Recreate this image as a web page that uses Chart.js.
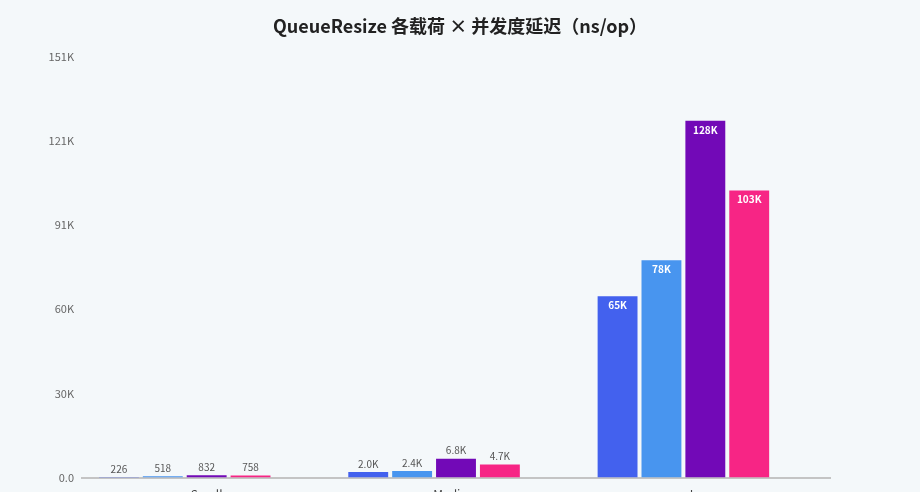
<!DOCTYPE html>
<html lang="zh">
<head>
<meta charset="UTF-8">
<title>QueueResize 各载荷 × 并发度延迟</title>
<style>
  html, body {
    margin: 0;
    padding: 0;
    background: #f4f8fa;
    overflow: hidden;
    height: 492px;
  }
  .wrap {
    width: 920px;
    height: 532px;
    position: relative;
  }
</style>
</head>
<body>
<div class="wrap">
  <canvas id="chart"></canvas>
</div>

<script src="https://cdn.jsdelivr.net/npm/chart.js@4"></script>
<script>
// 载荷类别
const loads = ['Small', 'Medium', 'Large'];
// 各并发度的延迟 (ns/op)
const conc1 = [226, 2010, 65000];
const conc4 = [518, 2400, 78000];
const conc16 = [832, 6800, 128000];
const conc64 = [758, 4700, 103000];
const conc256 = [null, null, null]; // 未测
const seriesNames = ['并发 1', '并发 4', '并发 16', '并发 64', '并发 256'];
// y 轴刻度
const yMax = 151000;
const yStep = 30200;
const yTickLabels = ['0.0', '30K', '60K', '91K', '121K', '151K'];

const colors = ['#4361ee', '#4895ef', '#7209b7', '#f72585', '#3a0ca3'];
const FONT = '"Noto Sans CJK SC", "Noto Sans", sans-serif';

function fmt(v) {
  if (v < 1000) return String(Math.round(v));
  if (v < 10000) return (v / 1000).toFixed(1) + 'K';
  return Math.round(v / 1000) + 'K';
}

// 柱顶数值标签
const valueLabels = {
  id: 'valueLabels',
  afterDatasetsDraw(chart) {
    const ctx = chart.ctx;
    ctx.save();
    ctx.textAlign = 'center';
    chart.data.datasets.forEach((ds, i) => {
      const meta = chart.getDatasetMeta(i);
      meta.data.forEach((bar, j) => {
        const v = ds.data[j];
        if (v == null) return;
        const h = bar.base - bar.y;
        if (h > 40) {
          ctx.fillStyle = '#ffffff';
          ctx.font = 'bold 10px ' + FONT;
          ctx.textBaseline = 'top';
          ctx.fillText(fmt(v), bar.x, bar.y + 4);
        } else {
          ctx.fillStyle = '#555555';
          ctx.font = '10px ' + FONT;
          ctx.textBaseline = 'bottom';
          ctx.fillText(fmt(v), bar.x, bar.y - 3);
        }
      });
    });
    ctx.restore();
  }
};

const seriesData = [conc1, conc4, conc16, conc64, conc256];

new Chart(document.getElementById('chart'), {
  type: 'bar',
  data: {
    labels: loads,
    datasets: seriesData.map((d, i) => ({
      label: seriesNames[i],
      data: d,
      backgroundColor: colors[i],
      categoryPercentage: 0.88,
      barPercentage: 0.909
    }))
  },
  options: {
    responsive: true,
    maintainAspectRatio: false,
    animation: false,
    layout: { padding: { left: 0, right: 0, top: 0, bottom: 20 } },
    plugins: {
      legend: { display: false },
      tooltip: { enabled: false },
      title: {
        display: true,
        text: 'QueueResize 各载荷 × 并发度延迟（ns/op）',
        color: '#222222',
        font: { family: FONT, size: 18, weight: 'bold' },
        padding: { top: 15, bottom: 20 }
      }
    },
    scales: {
      x: {
        grid: { display: false, drawTicks: false },
        border: { display: true, color: '#c4c4c4', width: 2 },
        ticks: { color: '#444444', font: { family: FONT, size: 12 }, padding: 10 }
      },
      y: {
        min: 0,
        max: yMax,
        afterBuildTicks(axis) {
          axis.ticks = yTickLabels.map((_, i) => ({ value: i * yStep }));
        },
        grid: { display: false, drawTicks: false },
        border: { display: false },
        ticks: {
          color: '#666666',
          font: { family: FONT, size: 11 },
          padding: 8,
          callback(v, i) { return yTickLabels[i]; }
        },
        afterFit(axis) { axis.width = 82; }
      },
      // 右侧留白
      yRight: {
        position: 'right',
        min: 0,
        max: yMax,
        grid: { display: false, drawTicks: false },
        border: { display: false },
        ticks: { display: false },
        afterFit(axis) { axis.width = 90; }
      }
    }
  },
  plugins: [valueLabels]
});
</script>
</body>
</html>
